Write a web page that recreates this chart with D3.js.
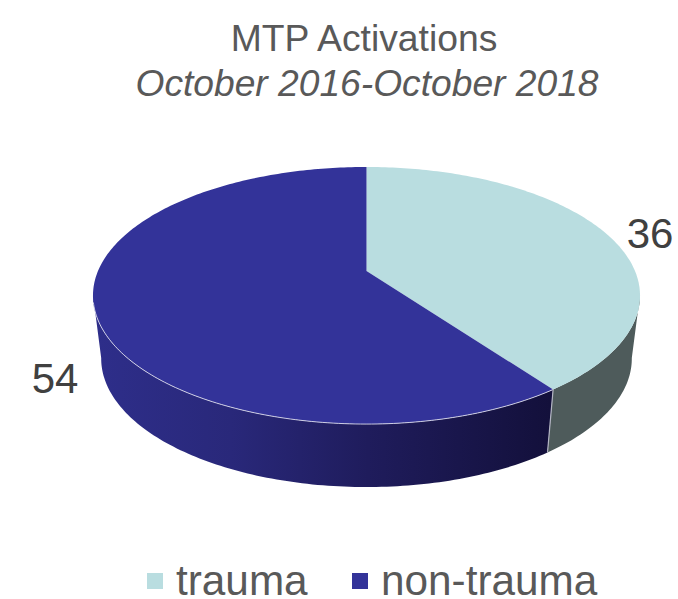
<!DOCTYPE html>
<html>
<head>
<meta charset="utf-8">
<script src="https://cdn.jsdelivr.net/npm/d3@7"></script>
<style>
  html, body { margin: 0; padding: 0; background: #fff; }
  text { font-family: "Liberation Sans", Arial, sans-serif; }
</style>
</head>
<body>
<svg id="pie"></svg>
<script>
const categories = ["trauma", "non-trauma"];
const values = [36, 54];
const titleLines = ["MTP Activations", "October 2016-October 2018"];

const width = 678;
const height = 599;

const svg = d3.select("#pie")
  .attr("width", width)
  .attr("height", height)
  .style("display", "block");

const topColors = d3.scaleOrdinal().domain(categories).range(["#b9dde0", "#333399"]);

// the picture is a tilted pie with perspective, so the apex sits above the ellipse middle
const cx = 366.5;
const apexY = 271;
const halfW = 268.5;
const tiltY = 72.2;
const persp = -0.1907;
const depth = 63;
const bottomScale = 0.97;

function topPoint(a) {
  const u = Math.sin(a), v = -Math.cos(a);
  const w = 1 + persp * v;
  return [cx + halfW * u / w, (apexY + tiltY * v) / w];
}

function bottomPoint(a) {
  const p = topPoint(a);
  return [cx + (p[0] - cx) * bottomScale, p[1] + depth];
}

function sample(a0, a1) {
  const n = Math.max(2, Math.ceil(Math.abs(a1 - a0) * 60));
  return d3.range(n + 1).map(i => a0 + (a1 - a0) * i / n);
}

const arcs = d3.pie().sort(null).value(d => d)(values);
const line = d3.line();

const defs = svg.append("defs");

const wallFront = defs.append("linearGradient")
  .attr("id", "wall-front")
  .attr("gradientUnits", "userSpaceOnUse")
  .attr("x1", 95).attr("x2", 550).attr("y1", 0).attr("y2", 0);
wallFront.append("stop").attr("offset", 0).attr("stop-color", "#2e2e8a");
wallFront.append("stop").attr("offset", 0.3).attr("stop-color", "#29287a");
wallFront.append("stop").attr("offset", 0.6).attr("stop-color", "#1f1c5c");
wallFront.append("stop").attr("offset", 1).attr("stop-color", "#13103b");

const wallFill = ["#4e5b5b", "url(#wall-front)"];

// side walls first, the top disc goes over them
// walls run between the widest points of the ellipse
const visibleFrom = 100.8 * Math.PI / 180;
const visibleTo = 259.2 * Math.PI / 180;

svg.append("g")
  .selectAll("path")
  .data(arcs)
  .enter()
  .append("path")
  .attr("d", d => {
    const a0 = Math.max(d.startAngle, visibleFrom);
    const a1 = Math.min(d.endAngle, visibleTo);
    const angles = sample(a0, a1);
    return line(angles.map(topPoint).concat(angles.slice().reverse().map(bottomPoint))) + "Z";
  })
  .attr("fill", (d, i) => wallFill[i]);

svg.append("g")
  .selectAll("path")
  .data(arcs)
  .enter()
  .append("path")
  .attr("d", d => line([[cx, apexY]].concat(sample(d.startAngle, d.endAngle).map(topPoint))) + "Z")
  .attr("fill", (d, i) => topColors(categories[i]));

// thin pale edges on the front rim and the wall split
const split = arcs[0].endAngle;
svg.append("path")
  .attr("d", line(sample(split, 256 * Math.PI / 180).map(topPoint)))
  .attr("fill", "none")
  .attr("stroke", "#d9d9ea")
  .attr("stroke-width", 0.9);

svg.append("path")
  .attr("d", line([topPoint(split), bottomPoint(split)]))
  .attr("fill", "none")
  .attr("stroke", "#b4b6c4")
  .attr("stroke-width", 1.2);

svg.append("text")
  .attr("x", 364)
  .attr("y", 51)
  .attr("text-anchor", "middle")
  .attr("font-size", 37.3)
  .attr("fill", "#595959")
  .text(titleLines[0]);

svg.append("text")
  .attr("x", 367)
  .attr("y", 96)
  .attr("text-anchor", "middle")
  .attr("font-size", 37.2)
  .attr("font-style", "italic")
  .attr("fill", "#595959")
  .text(titleLines[1]);

// data labels
svg.selectAll("text.value")
  .data(values)
  .enter()
  .append("text")
  .attr("class", "value")
  .attr("x", (d, i) => [650, 55][i])
  .attr("y", (d, i) => [248, 393][i])
  .attr("text-anchor", "middle")
  .attr("font-size", 42)
  .attr("fill", "#404040")
  .text(d => d);

// legend
const legend = svg.selectAll("g.legend")
  .data(categories)
  .enter()
  .append("g")
  .attr("class", "legend")
  .attr("transform", (d, i) => `translate(${[147, 352][i]},573)`);

legend.append("rect")
  .attr("width", 16)
  .attr("height", 16)
  .attr("fill", d => topColors(d));

legend.append("text")
  .attr("x", 29)
  .attr("y", 22)
  .attr("font-size", 42.3)
  .attr("fill", "#595959")
  .text(d => d);
</script>
</body>
</html>
